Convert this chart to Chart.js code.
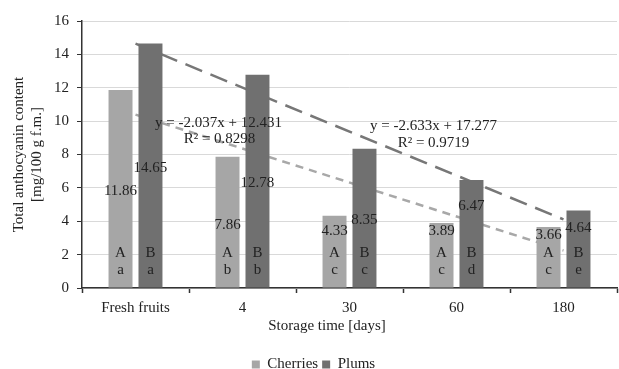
<!DOCTYPE html>
<html>
<head>
<meta charset="utf-8">
<script src="https://cdn.jsdelivr.net/npm/chart.js@4"></script>
<style>
    html, body { margin: 0; padding: 0; background: #fff; }
    #wrap { width: 619px; height: 369px; }
</style>
</head>
<body>
<div id="wrap"><canvas id="chart" width="619" height="369"></canvas></div>
<script>
// chart data
const categories = ['Fresh fruits', '4', '30', '60', '180'];
const cherries = [11.86, 7.86, 4.33, 3.89, 3.66];
const plums = [14.65, 12.78, 8.35, 6.47, 4.64];
const cherriesLetters = [['A', 'a'], ['A', 'b'], ['A', 'c'], ['A', 'c'], ['A', 'c']];
const plumsLetters = [['B', 'a'], ['B', 'b'], ['B', 'c'], ['B', 'd'], ['B', 'e']];
// linear trendline end points (first and last category)
const cherriesTrend = [10.39, null, null, null, 2.25];
const plumsTrend = [14.64, null, null, null, 4.11];
const cherriesEquation = ['y = -2.037x + 12.431', 'R² = 0.8298'];
const plumsEquation = ['y = -2.633x + 17.277', 'R² = 0.9719'];
const yTicks = [0, 2, 4, 6, 8, 10, 12, 14, 16];

const FONT = "'Liberation Serif', 'Times New Roman', serif";
const CHERRY_COLOR = '#a6a6a6';
const PLUM_COLOR = '#707070';

Chart.defaults.font.family = FONT;
Chart.defaults.font.size = 15;
Chart.defaults.color = '#222';

// where the value labels sit inside the bars (in axis units)
const cherriesValueAt = [5.8, 3.8, 3.4, 3.4, 3.2];
const plumsValueAt = [7.2, 6.3, 4.1, 4.9, 3.6];

const barLabels = {
    id: 'barLabels',
    afterDatasetsDraw(chart) {
        const ctx = chart.ctx;
        const y = chart.scales.y;
        const x = chart.scales.x;
        ctx.save();
        ctx.fillStyle = '#222';
        ctx.font = '15px ' + FONT;
        ctx.textAlign = 'center';
        ctx.textBaseline = 'middle';
        [[0, cherries, cherriesLetters, cherriesValueAt], [1, plums, plumsLetters, plumsValueAt]].forEach(([di, vals, letters, at]) => {
            const meta = chart.getDatasetMeta(di);
            meta.data.forEach((bar, i) => {
                ctx.fillText(vals[i].toFixed(2), bar.x, y.getPixelForValue(at[i]));
                ctx.fillText(letters[i][0], bar.x, y.getPixelForValue(2.1));
                ctx.fillText(letters[i][1], bar.x, y.getPixelForValue(1.1));
            });
        });

        // trendline equations
        ctx.fillText(cherriesEquation[0], x.getPixelForValue(0) + 83, y.getPixelForValue(9.9));
        ctx.fillText(cherriesEquation[1], x.getPixelForValue(0) + 84, y.getPixelForValue(8.9));
        ctx.fillText(plumsEquation[0], x.getPixelForValue(2) + 84, y.getPixelForValue(9.7));
        ctx.fillText(plumsEquation[1], x.getPixelForValue(2) + 84, y.getPixelForValue(8.7));

        // x axis title
        ctx.fillText('Storage time [days]', 327, 326);
        ctx.restore();
    }
};

new Chart(document.getElementById('chart'), {
    type: 'bar',
    data: {
        labels: categories,
        datasets: [
            {
                label: 'Cherries',
                data: cherries,
                backgroundColor: CHERRY_COLOR,
                categoryPercentage: 0.56,
                barPercentage: 0.8,
                order: 1,
            },
            {
                label: 'Plums',
                data: plums,
                backgroundColor: PLUM_COLOR,
                categoryPercentage: 0.56,
                barPercentage: 0.8,
                order: 1,
            },
            // trendlines sit behind the bars
            {
                type: 'line',
                label: 'cherriesTrend',
                data: cherriesTrend,
                spanGaps: true,
                borderColor: '#a8a8a8',
                borderWidth: 2.5,
                borderDash: [8, 6],
                pointRadius: 0,
                fill: false,
                order: 2,
            },
            {
                type: 'line',
                label: 'plumsTrend',
                data: plumsTrend,
                spanGaps: true,
                borderColor: '#777',
                borderWidth: 2.5,
                borderDash: [18, 9],
                pointRadius: 0,
                fill: false,
                order: 2,
            },
        ],
    },
    options: {
        responsive: false,
        animation: false,
        layout: { padding: { top: 21, right: 2, left: 10, bottom: -13 } },
        plugins: {
            tooltip: { enabled: false },
            legend: {
                position: 'bottom',
                labels: {
                    filter: (item) => item.datasetIndex < 2,
                    boxWidth: 8,
                    boxHeight: 8,
                    padding: 4,
                    color: '#222',
                    font: { family: 'Liberation Serif', size: 15 },
                },
            },
        },
        scales: {
            x: {
                grid: {
                    drawOnChartArea: false,
                    tickLength: 5,
                    tickColor: '#333',
                    tickWidth: 1.5,
                },
                border: { color: '#333', width: 1.5 },
                ticks: {
                    color: '#222',
                    padding: 6,
                    font: { family: FONT, size: 15 },
                },
                title: {
                    display: true,
                    text: ' ',
                    padding: { top: 0, bottom: 12 },
                    font: { family: FONT, size: 15 },
                },
            },
            y: {
                min: 0,
                max: 16,
                afterBuildTicks: (scale) => { scale.ticks = yTicks.map(v => ({ value: v })); },
                grid: {
                    color: '#d9d9d9',
                    lineWidth: 1,
                    tickLength: 5,
                    tickColor: '#333',
                },
                border: { color: '#333', width: 1.5 },
                ticks: {
                    color: '#222',
                    padding: 8,
                    font: { family: FONT, size: 15 },
                },
                title: {
                    display: true,
                    text: ['Total anthocyanin content', '[mg/100 g f.m.]'],
                    color: '#222',
                    padding: { top: 0, bottom: 0 },
                    font: { family: FONT, size: 15, lineHeight: 1.2 },
                },
            },
        },
    },
    plugins: [barLabels],
});
</script>
</body>
</html>
